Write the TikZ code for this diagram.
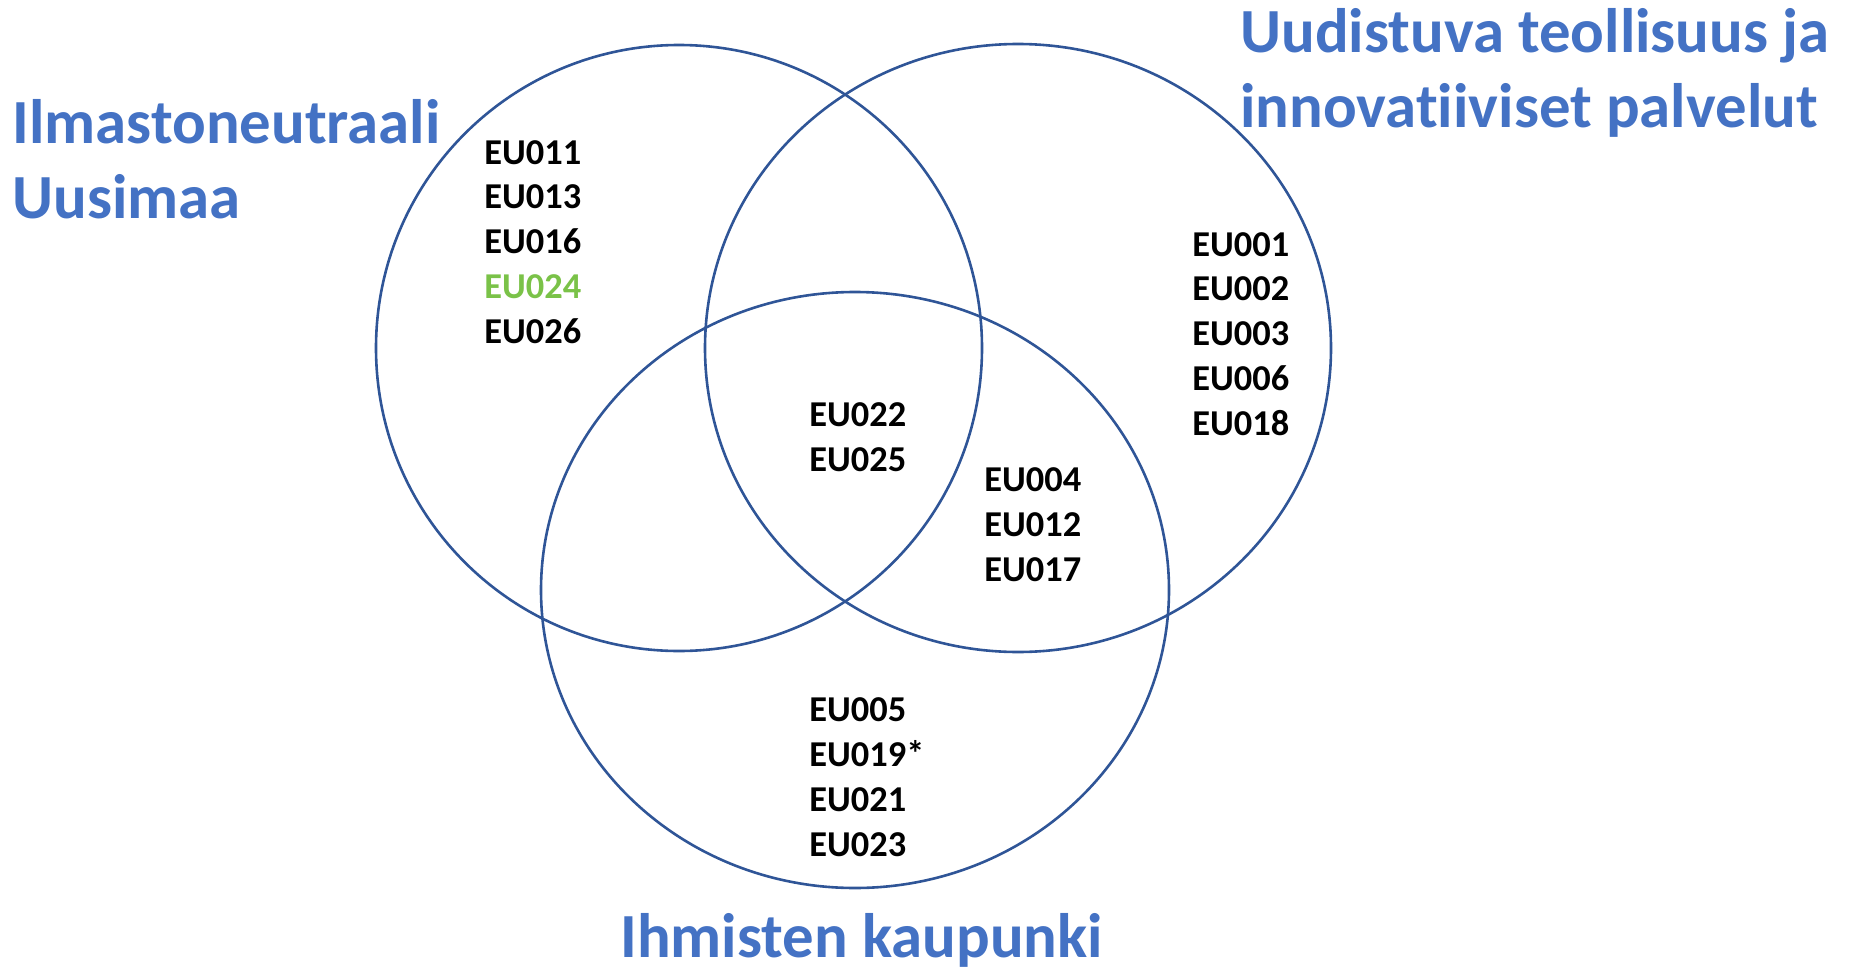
\documentclass[tikz,border=0pt]{standalone}
\usepackage{fontspec}
\setmainfont{Carlito}[Ligatures=NoCommon]
\usepackage{tikz}
\usetikzlibrary{calc}

\definecolor{ringblue}{HTML}{2F5597}
\definecolor{titleblue}{HTML}{4472C4}
\definecolor{newgreen}{RGB}{122,194,72}

\tikzset{
	ring/.style={draw=ringblue, line width=1.3pt},
	title/.style={font=\bfseries\fontsize{31.4}{37.5}\selectfont, text=titleblue,
		align=left, inner sep=0pt, anchor=base west},
	code/.style={font=\bfseries\fontsize{18.2}{22.35}\selectfont,
		align=left, inner sep=0pt, anchor=base west}
}

\begin{document}
\begin{tikzpicture}[x=0.5pt, y=-0.5pt]
	\useasboundingbox (0,0) rectangle (1849,969);

	\coordinate (climate) at (679,348);
	\coordinate (industry) at (1018,348);
	\coordinate (people) at (855,590);

	\draw[ring] (climate)  ellipse [x radius=303, y radius=303];
	\draw[ring] (industry) ellipse [x radius=313, y radius=304];
	\draw[ring] (people)   ellipse [x radius=314, y radius=298];

	% base anchor sits on the last line
	\node[title] (climatetitle) at (12,218)
		{Ilmastoneutraali\\Uusimaa};
	\node[title] (industrytitle) at (1240,127)
		{Uudistuva teollisuus ja\\innovatiiviset palvelut};
	\node[title] (peopletitle) at (620,957)
		{Ihmisten kaupunki};

	\node[code] (climateonly) at (484,343)
		{EU011\\EU013\\EU016\\\textcolor{newgreen}{EU024}\\EU026};
	\node[code] (industryonly) at (1192,435)
		{EU001\\EU002\\EU003\\EU006\\EU018};
	\node[code] (allthree) at (809,471)
		{EU022\\EU025};
	\node[code] (industrypeople) at (984,581)
		{EU004\\EU012\\EU017};
	\node[code] (peopleonly) at (809,856)
		{EU005\\EU019*\\EU021\\EU023};
\end{tikzpicture}
\end{document}
